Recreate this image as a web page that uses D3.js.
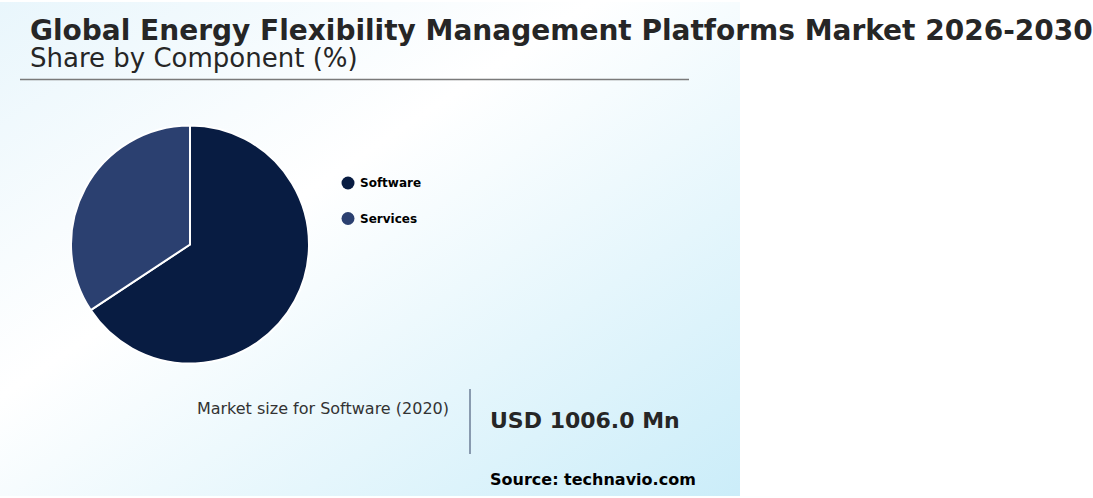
<!DOCTYPE html>
<html>
<head>
<meta charset="utf-8">
<script src="https://cdn.jsdelivr.net/npm/d3@7"></script>
<style>
  body { margin: 0; background: #fff; }
  svg { display: block; font-family: "DejaVu Sans", sans-serif; }
</style>
</head>
<body>
<div id="chart"></div>
<script>
// Component share pie
const width = 1093;
const height = 498;

const components = ['Software', 'Services'];
const shares = [65.7, 34.3];
const colors = ['#081c42', '#2b4070'];

const titleText = 'Global Energy Flexibility Management Platforms Market 2026-2030';
const subtitleText = 'Share by Component (%)';
const marketLabel = 'Market size for Software (2020)';
const marketValue = 'USD 1006.0 Mn';
const sourceText = 'Source: technavio.com';

const svg = d3.select('#chart')
    .append('svg')
    .attr('width', width)
    .attr('height', height);

// background panel gradient
const defs = svg.append('defs');
const grad = defs.append('linearGradient')
    .attr('id', 'bg')
    .attr('x1', '0%').attr('y1', '0%')
    .attr('x2', '100%').attr('y2', '100%');
grad.append('stop').attr('offset', '0%').attr('stop-color', '#e9f6fc');
grad.append('stop').attr('offset', '40%').attr('stop-color', '#ffffff');
grad.append('stop').attr('offset', '100%').attr('stop-color', '#cbedf9');

svg.append('rect')
    .attr('x', 0).attr('y', 2)
    .attr('width', 740).attr('height', 494)
    .attr('fill', 'url(#bg)');

// titles
svg.append('text')
    .attr('x', 30).attr('y', 40)
    .attr('fill', '#262626')
    .style('font-size', '28px')
    .style('font-weight', 'bold')
    .text(titleText);

svg.append('text')
    .attr('x', 30).attr('y', 67)
    .attr('fill', '#262626')
    .style('font-size', '26px')
    .text(subtitleText);

svg.append('line')
    .attr('x1', 20).attr('x2', 689)
    .attr('y1', 79.5).attr('y2', 79.5)
    .attr('stroke', '#7a7a7a')
    .attr('stroke-width', 1.5);

// pie
const data = components.map((c, i) => ({ name: c, value: shares[i] }));
const pie = d3.pie().value(d => d.value).sort(null);
const arc = d3.arc().innerRadius(0).outerRadius(119);
const color = d3.scaleOrdinal().domain(components).range(colors);

const g = svg.append('g').attr('transform', 'translate(190,244.5)');
g.selectAll('path')
    .data(pie(data))
    .enter()
    .append('path')
    .attr('d', arc)
    .attr('fill', d => color(d.data.name))
    .attr('stroke', '#fff')
    .attr('stroke-width', 2);

// legend
const legend = svg.append('g').attr('transform', 'translate(348,183)');
const item = legend.selectAll('g')
    .data(components)
    .enter()
    .append('g')
    .attr('transform', (d, i) => `translate(0,${i * 35.5})`);
item.append('circle')
    .attr('r', 6.5)
    .attr('fill', d => color(d));
item.append('text')
    .attr('x', 12).attr('y', 4)
    .attr('fill', '#000')
    .style('font-size', '12px')
    .style('font-weight', 'bold')
    .text(d => d);

// market size callout
svg.append('text')
    .attr('x', 449).attr('y', 414)
    .attr('text-anchor', 'end')
    .attr('fill', '#333')
    .style('font-size', '16px')
    .text(marketLabel);

svg.append('line')
    .attr('x1', 470).attr('x2', 470)
    .attr('y1', 389).attr('y2', 454)
    .attr('stroke', '#6b7d96')
    .attr('stroke-width', 1.5);

svg.append('text')
    .attr('x', 490).attr('y', 428)
    .attr('fill', '#262626')
    .style('font-size', '22px')
    .style('font-weight', 'bold')
    .text(marketValue);

svg.append('text')
    .attr('x', 490).attr('y', 485)
    .attr('fill', '#000')
    .style('font-size', '16px')
    .style('font-weight', 'bold')
    .text(sourceText);
</script>
</body>
</html>
